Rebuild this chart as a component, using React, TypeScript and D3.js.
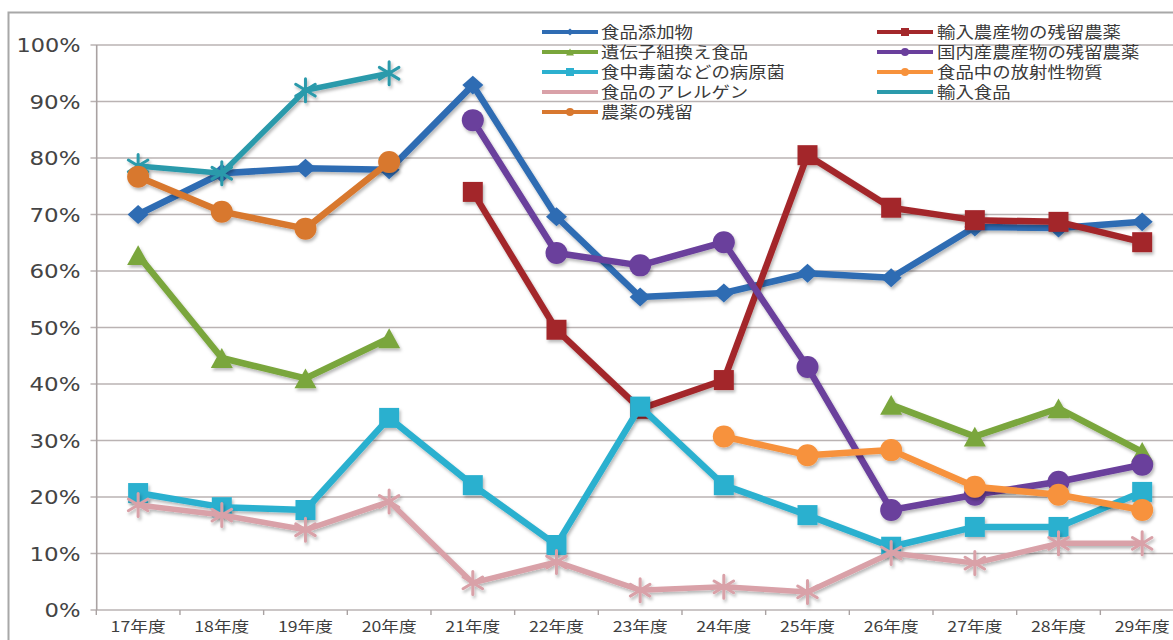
import React from 'react';
import * as d3 from 'd3';

const categories = ['17年度', '18年度', '19年度', '20年度', '21年度', '22年度', '23年度', '24年度', '25年度', '26年度', '27年度', '28年度', '29年度'];
const yTicks = [0, 10, 20, 30, 40, 50, 60, 70, 80, 90, 100];

type V = number | null;
const foodAdditives: V[] = [70, 77.3, 78.2, 77.9, 92.9, 69.6, 55.4, 56.1, 59.6, 58.8, 67.8, 67.6, 68.7];
const importedProduceResidue: V[] = [null, null, null, null, 74, 49.6, 35.6, 40.7, 80.5, 71.2, 69, 68.7, 65.1];
const gmFood: V[] = [62.8, 44.6, 41, 48.1, null, null, null, null, null, 36.3, 30.7, 35.7, 28];
const domesticProduceResidue: V[] = [null, null, null, null, 86.7, 63.2, 61, 65.1, 43, 17.7, 20.4, 22.7, 25.7];
const pathogens: V[] = [20.7, 18.2, 17.7, 34, 22.1, 11.5, 36, 22.1, 16.8, 11.2, 14.7, 14.7, 20.9];
const radioactive: V[] = [null, null, null, null, null, null, null, 30.7, 27.4, 28.3, 21.8, 20.4, 17.7];
const allergens: V[] = [18.6, 16.8, 14.2, 19.2, 4.8, 8.5, 3.5, 4.1, 3.2, 10.1, 8.3, 11.8, 11.8];
const importedFood: V[] = [78.6, 77.3, 92, 95, null, null, null, null, null, null, null, null, null];
const pesticideResidue: V[] = [76.7, 70.5, 67.5, 79.3, null, null, null, null, null, null, null, null, null];

const seriesNames = ['食品添加物', '輸入農産物の残留農薬', '遺伝子組換え食品', '国内産農産物の残留農薬', '食中毒菌などの病原菌', '食品中の放射性物質', '食品のアレルゲン', '輸入食品', '農薬の残留'];
const seriesValues = [foodAdditives, importedProduceResidue, gmFood, domesticProduceResidue, pathogens, radioactive, allergens, importedFood, pesticideResidue];
const seriesColors = ['#2f6cb3', '#a3282b', '#7aa63c', '#6a3f9c', '#2cb0cf', '#f7923c', '#d9a1a8', '#2b9aab', '#d8782f'];
const seriesMarkers = ['diamond', 'square', 'triangle', 'circle', 'square', 'circle', 'star', 'star', 'circle'];

const W = 1173;
const H = 640;
const left = 96.3;
const band = 83.67;
const top = 45;
const bottom = 610;

function markerPath(kind: string, s: number): string {
  const h = s / 2;
  switch (kind) {
    case 'diamond':
      return `M0,${-h * 0.9}L${h},0L0,${h * 0.9}L${-h},0Z`;
    case 'square':
      return `M${-h},${-h}H${h}V${h}H${-h}Z`;
    case 'triangle':
      return `M0,${-h * 0.9}L${h},${h * 0.9}L${-h},${h * 0.9}Z`;
    case 'star': {
      const d = h * 0.85;
      return `M0,${-h}V${h}M${-d},${-d * 0.6}L${d},${d * 0.6}M${-d},${d * 0.6}L${d},${-d * 0.6}`;
    }
    default:
      return '';
  }
}

function Marker({ kind, color, x, y, size }: { kind: string; color: string; x: number; y: number; size: number }) {
  if (kind === 'circle') return <circle cx={x} cy={y} r={size / 2} fill={color} />;
  if (kind === 'star')
    return <path d={markerPath(kind, size)} transform={`translate(${x},${y})`} fill="none" stroke={color} strokeWidth={3} strokeLinecap="round" />;
  return <path d={markerPath(kind, size)} transform={`translate(${x},${y})`} fill={color} />;
}

const markerSize: Record<string, number> = { diamond: 21, square: 20, triangle: 22, circle: 22, star: 23 };

export default function App() {
  const x = d3.scaleBand<string>().domain(categories).range([left, left + band * categories.length]).padding(0);
  const y = d3.scaleLinear().domain([0, 100]).range([bottom, top]);
  const cx = (i: number) => (x(categories[i]) as number) + x.bandwidth() / 2;
  const line = d3
    .line<V>()
    .defined((d) => d != null)
    .x((_, i) => cx(i))
    .y((d) => y(d as number));

  const legendLeft = [0, 2, 4, 6, 8];
  const legendRight = [1, 3, 5, 7];

  return (
    <svg width={W} height={H} style={{ position: 'absolute', left: 0, top: 0, background: '#fff' }}>
      <defs>
        <filter id="sh" x="-10%" y="-10%" width="120%" height="130%">
          <feDropShadow dx="1.5" dy="2.5" stdDeviation="1.5" floodColor="#000" floodOpacity="0.28" />
        </filter>
      </defs>
      {/* outer border */}
      <path d={`M8.5,${H}V12.5H${W}`} fill="none" stroke="#a8a8a8" strokeWidth={2} />

      {/* gridlines */}
      {yTicks.map((t) => (
        <line key={t} x1={90.5} x2={W} y1={y(t)} y2={y(t)} stroke="#bab3b3" strokeWidth={1.6} />
      ))}
      {/* y axis */}
      <line x1={96.7} x2={96.7} y1={top} y2={bottom} stroke="#a9a2a2" strokeWidth={1.6} />
      {/* x ticks */}
      {categories.map((c) => (
        <line key={c} x1={x(c) as number} x2={x(c) as number} y1={bottom} y2={bottom + 5} stroke="#a9a2a2" strokeWidth={1.4} />
      ))}

      {/* y labels */}
      {yTicks.map((t) => {
        const label = `${t}%`;
        const w = label.length === 4 ? 64 : label.length === 3 ? 51 : 36;
        return (
          <text
            key={t}
            x={80.5 - w}
            y={y(t) + 7}
            fontFamily="DejaVu Sans"
            fontSize={19}
            fill="#444"
            textLength={w}
            lengthAdjust="spacingAndGlyphs"
          >
            {label}
          </text>
        );
      })}
      {/* x labels */}
      {categories.map((c, i) => (
        <text
          key={c}
          x={cx(i) - 27.5}
          y={632}
          fontFamily="'Noto Sans CJK JP', 'DejaVu Sans'"
          fontSize={15}
          fill="#3f3f3f"
          textLength={55}
          lengthAdjust="spacingAndGlyphs"
        >
          {c}
        </text>
      ))}

      {/* series */}
      {seriesValues.map((vals, si) => {
        const color = seriesColors[si];
        const kind = seriesMarkers[si];
        return (
          <g key={si} filter="url(#sh)">
            <path
              d={line(vals) || ''}
              fill="none"
              stroke={color}
              strokeWidth={si === 6 || si === 7 ? 5.5 : 6.5}
              strokeLinejoin="round"
              strokeLinecap="round"
            />
            {vals.map((v, i) =>
              v == null ? null : <Marker key={i} kind={kind} color={color} x={cx(i)} y={y(v)} size={markerSize[kind]} />
            )}
          </g>
        );
      })}

      {/* legend */}
      {[legendLeft, legendRight].map((col, ci) =>
        col.map((si, ri) => {
          const lx = ci === 0 ? 542 : 877;
          const tx = ci === 0 ? 601 : 937;
          const ly = 32 + ri * 20;
          const color = seriesColors[si];
          const kind = seriesMarkers[si];
          const name = seriesNames[si];
          return (
            <g key={si}>
              <line x1={lx} x2={lx + 56} y1={ly} y2={ly} stroke={color} strokeWidth={4} />
              {kind !== 'star' && <Marker kind={kind} color={color} x={lx + 28} y={ly} size={8} />}
              <text
                x={tx}
                y={ly + 6}
                fontFamily="'Noto Sans CJK JP'"
                fontSize={15.5}
                fill="#3a3a3a"
                textLength={name.length * 18.4}
                lengthAdjust="spacingAndGlyphs"
              >
                {name}
              </text>
            </g>
          );
        })
      )}
    </svg>
  );
}
